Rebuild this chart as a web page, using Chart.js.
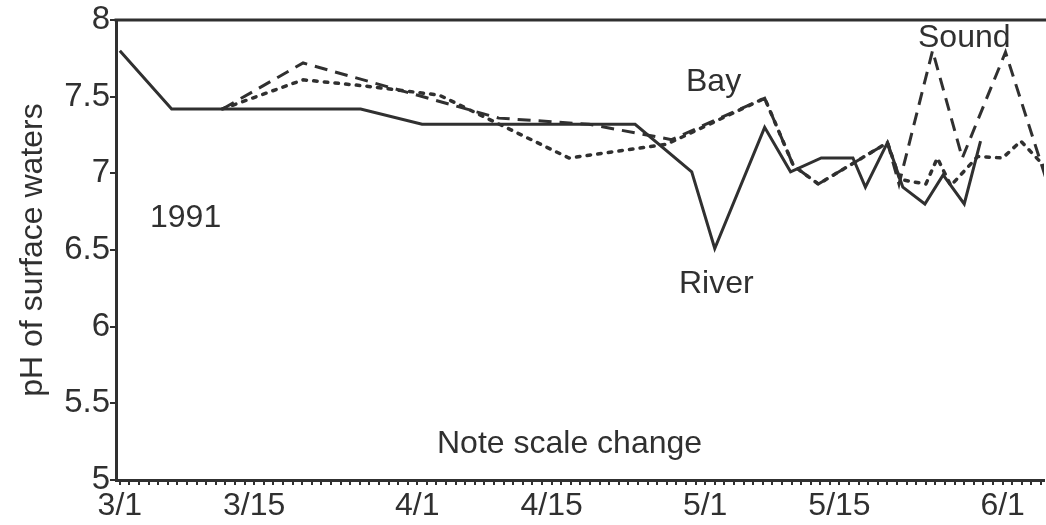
<!DOCTYPE html>
<html>
<head>
<meta charset="utf-8">
<script src="https://cdn.jsdelivr.net/npm/chart.js@4.4.1/dist/chart.umd.min.js"></script>
<style>
  html, body { margin: 0; padding: 0; background: #fff; }
  #ph-chart { display: block; }
</style>
</head>
<body>
<canvas id="ph-chart" width="1046" height="525"></canvas>
<script>
// Sampling days counted from March 1 (3/1 = 0, 4/1 = 31, 5/1 = 61, 6/1 = 92)
const riverDays = [0, 5.4, 25.1, 31.5, 53.7, 59.6, 62.0, 67.2, 69.9, 73.1, 76.4, 77.7, 80.0, 81.6, 83.9, 85.8, 88.0, 89.7];
const riverPh = [7.80, 7.42, 7.42, 7.32, 7.32, 7.01, 6.51, 7.30, 7.01, 7.10, 7.10, 6.91, 7.20, 6.91, 6.80, 6.99, 6.80, 7.21];

const bayDays = [10.7, 19.1, 25.5, 33.3, 46.8, 57.0, 67.2, 70.2, 72.8, 80.0, 81.3, 84.0, 85.2, 86.6, 89.4, 92.0, 93.9, 96.6];
const bayPh = [7.42, 7.61, 7.57, 7.51, 7.10, 7.19, 7.49, 7.05, 6.93, 7.20, 6.96, 6.93, 7.10, 6.92, 7.11, 7.10, 7.21, 7.03];

const soundDays = [10.7, 19.1, 39.5, 48.9, 57.5, 67.2, 70.2, 72.8, 80.0, 81.2, 84.7, 87.8, 92.3, 96.6];
const soundPh = [7.42, 7.72, 7.36, 7.32, 7.22, 7.49, 7.05, 6.93, 7.20, 6.93, 7.80, 7.10, 7.79, 6.95];

// Labelled dates on the x axis
const dateTickDays = [0, 14, 31, 45, 61, 75, 92];
const dateTickLabels = ["3/1", "3/15", "4/1", "4/15", "5/1", "5/15", "6/1"];

const INK = "#303030";
const FONT = "'Liberation Sans', Arial, Helvetica, sans-serif";

function toPoints(days, values) {
  return days.map((d, i) => ({ x: d, y: values[i] }));
}

// one minor tick per day along the bottom axis
const dayTicks = [];
for (let d = 0; d <= 96; d++) dayTicks.push(d);

const frameAndNotes = {
  id: "frameAndNotes",
  afterDraw(chart) {
    const { ctx, chartArea } = chart;
    ctx.save();

    // top frame line
    ctx.strokeStyle = INK;
    ctx.lineWidth = 3;
    ctx.beginPath();
    ctx.moveTo(chartArea.left - 1.5, chartArea.top);
    ctx.lineTo(chart.width, chartArea.top);
    ctx.stroke();

    ctx.fillStyle = INK;
    ctx.font = `32px ${FONT}`;
    ctx.textBaseline = "alphabetic";
    ctx.textAlign = "left";
    ctx.fillText("1991", 150, 227);
    ctx.fillText("Bay", 686, 91);
    ctx.fillText("Sound", 918, 47);
    ctx.fillText("River", 679, 293);
    ctx.fillText("Note scale change", 437, 453);

    // y axis title
    ctx.translate(42, 250);
    ctx.rotate(-Math.PI / 2);
    ctx.textAlign = "center";
    ctx.fillText("pH of surface waters", 0, 0);

    ctx.restore();
  },
};

function renderChart() {
  const ctx = document.getElementById("ph-chart").getContext("2d");

  new Chart(ctx, {
    type: "line",
    data: {
      datasets: [
        {
          label: "River",
          data: toPoints(riverDays, riverPh),
          borderColor: INK,
          borderWidth: 3,
        },
        {
          label: "Bay",
          data: toPoints(bayDays, bayPh),
          borderColor: INK,
          borderWidth: 3.5,
          borderDash: [3.5, 7.2],
          borderCapStyle: "round",
        },
        {
          label: "Sound",
          data: toPoints(soundDays, soundPh),
          borderColor: INK,
          borderWidth: 3,
          borderDash: [13, 8],
        },
      ],
    },
    options: {
      responsive: false,
      animation: false,
      devicePixelRatio: 1,
      layout: { padding: { top: 20, right: 0, bottom: 0, left: 0 } },
      elements: {
        point: { radius: 0 },
        line: { tension: 0, fill: false },
      },
      plugins: {
        legend: { display: false },
        tooltip: { enabled: false },
      },
      scales: {
        x: {
          type: "linear",
          min: -0.4,
          max: 96.3,
          afterBuildTicks: (axis) => {
            axis.ticks = dayTicks.map((v) => ({ value: v }));
          },
          afterFit: (axis) => {
            axis.height = 45;
          },
          ticks: {
            autoSkip: false,
            maxRotation: 0,
            padding: 5,
            color: INK,
            font: { family: FONT, size: 32, lineHeight: 1 },
            callback: (v) => {
              const i = dateTickDays.indexOf(v);
              return i >= 0 ? dateTickLabels[i] : "";
            },
          },
          grid: {
            drawOnChartArea: false,
            drawTicks: true,
            tickLength: 5,
            color: INK,
            lineWidth: 2,
          },
          border: { color: INK, width: 3 },
        },
        y: {
          min: 5,
          max: 8,
          afterFit: (axis) => {
            axis.width = 116;
          },
          ticks: {
            stepSize: 0.5,
            padding: 0,
            color: INK,
            font: { family: FONT, size: 33, lineHeight: 1 },
            callback: (v) => String(v),
          },
          grid: {
            drawOnChartArea: false,
            drawTicks: true,
            tickLength: 6,
            color: INK,
            lineWidth: 2,
          },
          border: { color: INK, width: 3 },
        },
      },
    },
    plugins: [frameAndNotes],
  });
}

renderChart();
</script>
</body>
</html>
